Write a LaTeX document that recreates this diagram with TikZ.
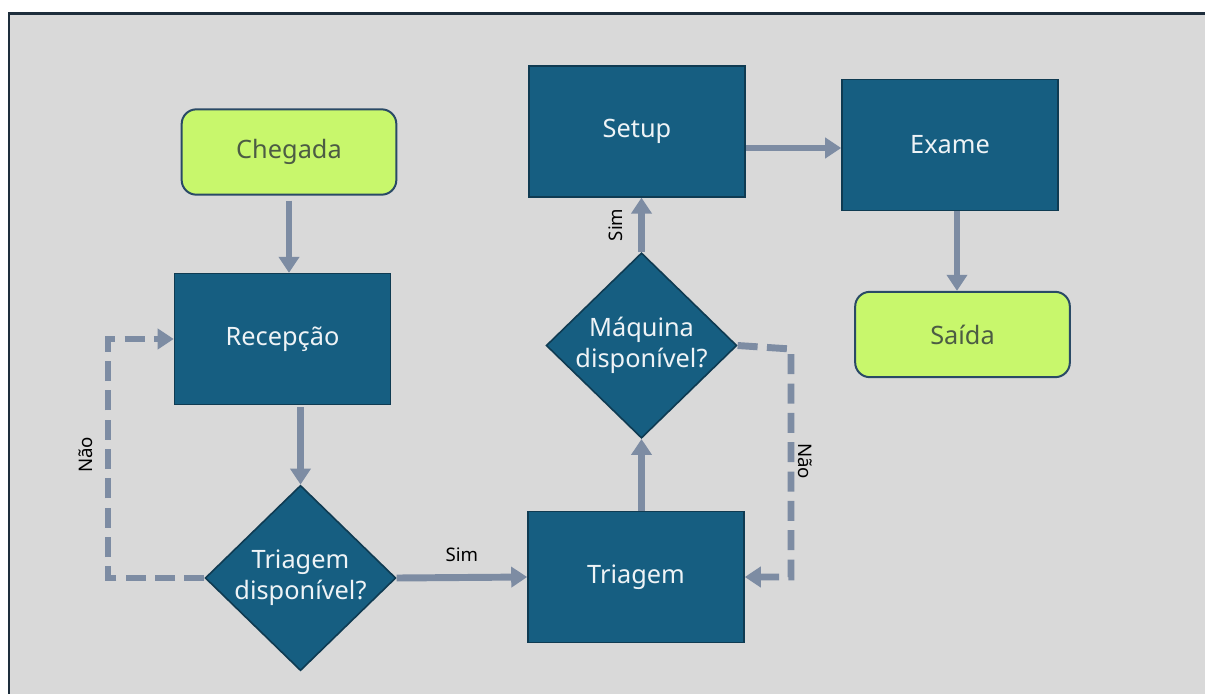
\documentclass[tikz,border=0pt]{standalone}
\usepackage{fontspec}
\setmainfont{Noto Sans}
\usetikzlibrary{shapes.geometric,arrows.meta}
\definecolor{bgc}{HTML}{D9D9D9}
\definecolor{framec}{HTML}{1E2E3C}
\definecolor{boxc}{HTML}{165E81}
\definecolor{boxb}{HTML}{0F3B52}
\definecolor{limec}{HTML}{C8F76C}
\definecolor{limeb}{HTML}{2A4A66}
\definecolor{limet}{HTML}{4C5C44}
\definecolor{arrc}{HTML}{7D8CA3}
\definecolor{boxt}{HTML}{EEF3F6}
\tikzset{
  procbox/.style={draw=boxb, line width=1.2pt, fill=boxc, text=boxt, minimum width=162pt, minimum height=98pt, inner sep=0pt, font=\fontsize{19}{23}\selectfont},
  termbox/.style={draw=limeb, line width=1.5pt, fill=limec, text=limet, rounded corners=11pt, minimum width=161pt, minimum height=64pt, inner sep=0pt, font=\fontsize{19}{23}\selectfont},
  decbox/.style={diamond, draw=boxb, line width=1.2pt, fill=boxc, minimum width=143pt, minimum height=139pt, inner sep=0pt},
  dectext/.style={text=boxt, align=center, font=\fontsize{19}{23}\selectfont},
  flow/.style={draw=arrc, line width=5.2pt, -{Triangle[width=15pt,length=12pt]}},
  dflow/.style={draw=arrc, line width=5.2pt, dash pattern=on 15pt off 7pt, -{Triangle[width=15pt,length=12pt]}},
  lbl/.style={font=\fontsize{14}{16}\selectfont, text=black}
}
\begin{document}
\begin{tikzpicture}[x=0.75pt,y=-0.75pt]
\useasboundingbox (0,0) rectangle (1205,693);
\fill[white] (0,0) rectangle (1205,693);
\draw[fill=bgc, draw=framec, line width=1.6pt] (9,13.5) rectangle (1215,703);

\node[termbox] (cheg) at (289,152) {Chegada};
\node[procbox] (rec) at (282.5,339) {Recepção};
\node[decbox] (td) at (300.5,578) {};
\node[dectext] (tdt) at (300.5,578) {Triagem\\disponível?};
\node[procbox] (tri) at (636,577) {Triagem};
\node[decbox] (md) at (641.5,345.5) {};
\node[dectext] (mdt) at (641.5,345.5) {Máquina\\disponível?};
\node[procbox] (set) at (637,131.5) {Setup};
\node[procbox] (exa) at (950,145) {Exame};
\node[termbox] (sai) at (962.5,334.5) {Saída};

\coordinate (nl1) at (108,578);
\coordinate (nl2) at (108,339);
\coordinate (nr1) at (791,349);
\coordinate (nr2) at (791,577);

\draw[flow] (cheg.south) ++(0,5) coordinate (a1) (a1) -- (cheg.south |- rec.north);
\draw[flow] (rec.south -| td.north) ++(0,2) coordinate (a2) (a2) -- (td.north);
\draw[flow] (td.east) -- (tri.west) node[lbl, midway, above=6pt] (s1) {Sim};
\draw[flow] (tri.north -| md.south) -- (md.south);
\draw[flow] (md.north) -- (md.north |- set.south) node[lbl, midway, left=8pt, rotate=90, anchor=south] (s2) {Sim};
\draw[flow] (set.east |- 0,148) -- (exa.west |- 0,148);
\draw[flow] (exa.south -| 957,0) -- (sai.north -| 957,0);

\draw[dflow] (td.west) -- (nl1) -- (nl2) -- (rec.west);
\draw[dflow] (md.east) -- (nr1) -- (nr2) -- (tri.east);

\node[lbl, rotate=90] (n1) at (86,455) {Não};
\node[lbl, rotate=-90] (n2) at (805,461) {Não};
\end{tikzpicture}
\end{document}
